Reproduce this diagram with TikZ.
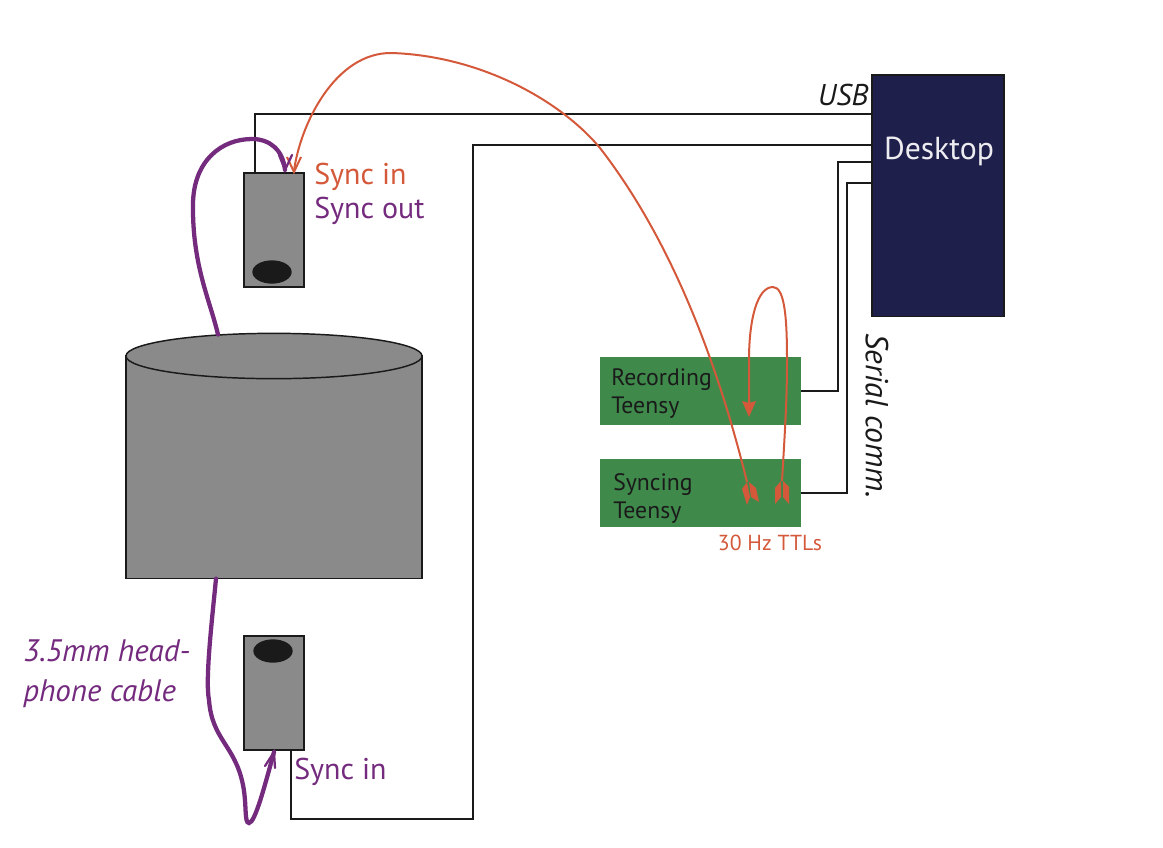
\documentclass[tikz,border=0pt]{standalone}
\usepackage{fontspec}
\setmainfont{PT Sans}
\usetikzlibrary{calc}
\definecolor{orng}{HTML}{D4593A}
\definecolor{purp}{HTML}{742B7E}
\definecolor{grey}{HTML}{8A8A8A}
\definecolor{navy}{HTML}{1F1F4B}
\definecolor{grn}{HTML}{3F8A4B}
\definecolor{blk}{HTML}{1A1A1A}
\tikzset{
 x=0.75pt,y=-0.75pt,
 box/.style={rectangle,inner sep=0pt,outer sep=0pt,anchor=north west},
 device/.style={box,draw=blk,line width=1.5pt*0.75,fill=grey,minimum width=45pt,minimum height=85.5pt},
 lens/.style={ellipse,inner sep=0pt,fill=blk,minimum width=29.5pt,minimum height=17.5pt},
 teensy/.style={box,fill=grn,minimum width=150.75pt},
 wire/.style={draw=blk,line width=1.5pt},
 sig/.style={draw=orng,line width=1.5pt},
 cable/.style={draw=purp,line width=3.2pt,line cap=round},
 barb/.style={draw=purp,line width=1.7pt,line cap=round},
 lab/.style={inner sep=0pt,anchor=west,font=\fontsize{22.5}{27}\selectfont},
 small/.style={inner sep=0pt,anchor=west,align=left,text=blk,font=\fontsize{17.8}{21}\selectfont},
 feather/.style={fill=orng,draw=none},
}
\usetikzlibrary{shapes.geometric}
\begin{document}
\begin{tikzpicture}
\useasboundingbox (0,0) rectangle (1163,847);
% tank
\node[box,draw=blk,line width=1.1pt,fill=grey,minimum width=222pt,minimum height=167pt] (tank) at (126,356) {};
\node[ellipse,inner sep=0pt,draw=blk,line width=1.1pt,fill=grey,minimum width=222pt,minimum height=34pt] (tanktop) at (tank.north) {};
% devices
\node[device] (cama) at (244,173) {};
\node[lens] (lensa) at (272,272) {};
\node[device] (camb) at (244,636) {};
\node[lens] (lensb) at (273,651) {};
\node[box,draw=blk,line width=0.8pt,fill=navy,minimum width=99pt,minimum height=181pt] (desk) at (872,75) {};
\node[inner sep=0pt,text=white!92!navy,font=\fontsize{23.8}{27}\selectfont] (desklab) at (939,151) {Desktop};
\node[teensy,minimum height=51pt] (rec) at (600,357) {};
\node[teensy,minimum height=51pt] (syn) at (600,459) {};
\node[small] (reclab) at (611,394) {Recording\\Teensy};
\node[small] (synlab) at (613,498) {Syncing\\Teensy};
% wires
\draw[wire] ($(cama.north)+(-19,0)$) |- ($(desk.north west)+(0,39)$);
\draw[wire] ($(camb.south)+(17,0)$) -- ++(0,69) -| (473,145) -- ($(desk.north west)+(0,70)$);
\draw[wire] (rec.east) -- ++(37,0) |- ($(desk.north west)+(0,87)$);
\draw[wire] (syn.east) -- ++(46,0) |- ($(desk.north west)+(0,108)$);
% orange signals
\coordinate (feaA) at (747,482);
\coordinate (feaB) at (782,481);
\draw[sig] (feaA) .. controls (712,340) and (662,228) .. (600,148) .. controls (560,100) and (480,56) .. (392,53) .. controls (335,52) and (300,125) .. ($(cama.north)+(20,-2)$);
\draw[sig] ($(cama.north)+(13,-16)$) -- ($(cama.north)+(20,-1)$) -- ($(cama.north)+(27,-16)$);
\coordinate (tipc) at (749,417);
\draw[sig] (feaB) .. controls (785,430) and (787,400) .. (787,360) .. controls (787,320) and (785,287) .. (773,287) .. controls (757,287) and (749,320) .. (749,360) -- (749,405);
\fill[orng] (tipc) -- (742,401) -- (749,403) -- (756,401) -- cycle;
\path[feather] (747,482) -- (742,489) -- (747,505) -- (750,497) -- cycle;
\path[feather] (749,482) -- (756,488) -- (759,502) -- (751,497) -- cycle;
\path[feather] (781,481) -- (775,488) -- (775,504) -- (781,497) -- cycle;
\path[feather] (783,481) -- (789,487) -- (789,504) -- (783,497) -- cycle;
% purple cables
\draw[cable] ($(tanktop.north)+(-56,2)$) .. controls (210,300) and (192,265) .. (193,203) .. controls (194,160) and (222,139) .. (252,139) .. controls (270,139) and (283,150) .. (285,170);
\draw[barb] (279,155) -- (285,170) -- (292,155);
\draw[cable] ($(tank.south west)+(90,0)$) .. controls (212,620) and (205,680) .. (209,700) .. controls (212,740) and (235,745) .. (243,785) .. controls (247,805) and (244,823) .. (249,823) .. controls (255,823) and (265,785) .. (274,752);
\draw[barb] (265,766) -- (274,752) -- (275,768);
% labels
\node[lab,text=orng] (sia) at (314,177) {Sync in};
\node[lab,text=purp] (soa) at (314,211) {Sync out};
\node[lab,text=purp] (sib) at (294,772) {Sync in};
\node[inner sep=0pt,text=blk,font=\itshape\fontsize{22.5}{27}\selectfont] (usb) at (843,95) {USB};
\node[inner sep=0pt,text=blk,rotate=-90,font=\itshape\fontsize{23.8}{27}\selectfont] (ser) at (877,416) {Serial comm.};
\node[inner sep=0pt,anchor=west,align=left,text=purp,font=\itshape\fontsize{23.3}{30}\selectfont] (cab) at (23,674) {3.5mm head-\\phone cable};
\node[inner sep=0pt,text=orng,font=\fontsize{16.3}{19}\selectfont] (ttl) at (770,543) {30 Hz TTLs};
\end{tikzpicture}
\end{document}
